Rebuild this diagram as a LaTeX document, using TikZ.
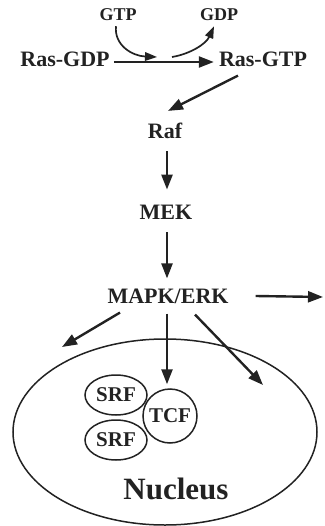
\documentclass[tikz,border=0pt]{standalone}
\usepackage{fontspec}
\setmainfont{Liberation Serif}
\usetikzlibrary{arrows.meta,shapes.geometric}
\definecolor{ink}{HTML}{222222}
\begin{document}
\begin{tikzpicture}[x=1pt,y=-1pt,
  lbl/.style={text=ink, inner sep=0pt, font=\bfseries\fontsize{22}{24}\selectfont},
  small/.style={text=ink, inner sep=0pt, font=\bfseries\fontsize{18}{20}\selectfont},
  flow/.style={draw=ink, line width=2.4pt, -{Triangle[length=15pt,width=11pt]}},
  swing/.style={draw=ink, line width=1.7pt, -{Triangle[length=12pt,width=8.5pt]}},
  blob/.style={draw=ink, line width=1.5pt, ellipse, inner sep=0pt, text=ink,
    font=\bfseries\fontsize{21}{23}\selectfont}]
\useasboundingbox (0,0) rectangle (324,526);

% signalling cascade
\node[small] (gtp) at (118,15) {GTP};
\node[small] (gdp) at (219,15) {GDP};
\node[lbl] (rasgdp) at (65,59) {Ras-GDP};
\node[lbl] (rasgtp) at (263,59) {Ras-GTP};
\node[lbl] (raf) at (165,131) {Raf};
\node[lbl] (mek) at (166,212) {MEK};
\node[lbl] (mapk) at (168,296) {MAPK/ERK};

% nucleus with its transcription factors
\node[blob, minimum width=304pt, minimum height=186pt] (nucleus) at (165,432) {};
\node[blob, minimum width=62pt, minimum height=40pt] (srfa) at (116,395) {SRF};
\node[blob, minimum width=62pt, minimum height=40pt] (srfb) at (116,440) {SRF};
\node[blob, circle, minimum size=54pt] (tcf) at (170,416) {TCF};
\node[text=ink, inner sep=0pt, font=\bfseries\fontsize{31}{34}\selectfont] (nuclabel) at (176,489) {Nucleus};

% free ends of the arrows
\coordinate (gtpmid) at (157,57);
\coordinate (gdpmid) at (172,57);
\coordinate (cyto) at (62,347);
\coordinate (membrane) at (263,385);
\coordinate (outside) at (323,297);

% GTP exchange
\draw[flow] ([xshift=4pt,yshift=-3pt]rasgdp.east) -- ([xshift=-5pt,yshift=-3pt]rasgtp.west);
\draw[swing] ([xshift=-2pt,yshift=-5pt]gtp.south) .. controls (114,45) and (132,56) .. (gtpmid);
\draw[swing] (gdpmid) .. controls (190,54) and (206,44) .. ([xshift=-5pt,yshift=-5pt]gdp.south);

% kinase cascade
\draw[flow] ([xshift=-25pt,yshift=-9pt]rasgtp.south) -- ([xshift=3pt,yshift=12pt]raf.north);
\draw[flow] ([xshift=2pt,yshift=-12pt]raf.south) -- ([xshift=1pt,yshift=15pt]mek.north);
\draw[flow] ([xshift=1pt,yshift=-13pt]mek.south) -- ([xshift=-1pt,yshift=10pt]mapk.north);

% MAPK/ERK targets
\draw[flow] ([xshift=27pt]mapk.east) -- (outside);
\draw[flow] ([xshift=-48pt,yshift=-9pt]mapk.south) -- (cyto);
\draw[flow] ([xshift=-1pt,yshift=-10pt]mapk.south) -- ([xshift=-3pt,yshift=4pt]tcf.north);
\draw[flow] ([xshift=27pt,yshift=-11pt]mapk.south) -- (membrane);
\end{tikzpicture}
\end{document}
